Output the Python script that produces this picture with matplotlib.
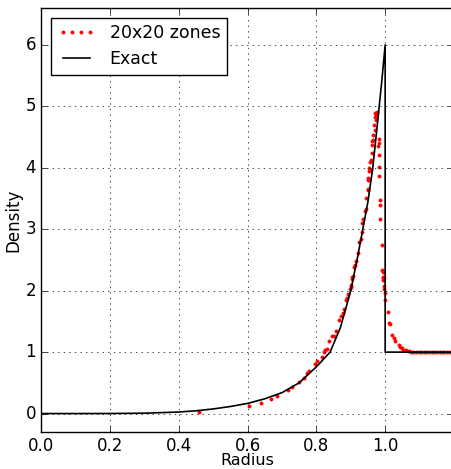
import matplotlib
matplotlib.use('Agg')
import matplotlib.pyplot as plt

plt.style.use('classic')

# Exact solution
r_exact = [0.0, 0.1, 0.2, 0.3, 0.4, 0.45, 0.5, 0.55, 0.6, 0.65, 0.7, 0.75,
           0.8, 0.84, 0.87, 0.9, 0.92, 0.935, 0.95, 0.964, 0.98, 0.99, 1.0,
           1.0, 1.2]
rho_exact = [0.0, 0.0, 0.001, 0.006, 0.025, 0.045, 0.075, 0.115, 0.165, 0.24,
             0.34, 0.5, 0.76, 1.0, 1.4, 2.0, 2.55, 3.0, 3.45, 4.0, 4.85, 5.4,
             6.0, 1.0, 1.0]

# 20x20 zones simulation (zone radius, density)
r_sim = [0.459, 0.603, 0.640, 0.669, 0.687, 0.719, 0.729, 0.75, 0.763, 0.774,
         0.78, 0.797, 0.801, 0.816, 0.821, 0.826, 0.830, 0.838, 0.845, 0.85,
         0.858, 0.867, 0.871, 0.877, 0.879, 0.886, 0.889, 0.893, 0.898, 0.90,
         0.903, 0.906, 0.90, 0.903, 0.91, 0.913, 0.916, 0.92, 0.925, 0.929,
         0.932, 0.934, 0.937, 0.942, 0.945, 0.945, 0.949, 0.952, 0.949, 0.951,
         0.951, 0.954, 0.954, 0.956, 0.958, 0.958, 0.961, 0.961, 0.963, 0.964,
         0.966, 0.969, 0.971, 0.971, 0.971, 0.972, 0.974, 0.975, 0.978, 0.981,
         0.981, 0.981, 0.983, 0.981, 0.985, 0.985, 0.985, 0.99, 0.992, 0.995,
         0.995, 0.997, 0.993, 0.995, 0.996, 0.997, 1.0, 1.0, 1.007, 1.012,
         1.015, 1.02, 1.026, 1.029, 1.039, 1.044, 1.049, 1.053, 1.06, 1.068,
         1.075, 1.082, 1.09, 1.098, 1.105, 1.112, 1.12, 1.128, 1.135, 1.142,
         1.15, 1.158, 1.165, 1.172, 1.18, 1.188, 1.195]
rho_sim = [0.03, 0.12, 0.18, 0.24, 0.29, 0.39, 0.43, 0.52, 0.58, 0.66,
           0.69, 0.81, 0.85, 0.92, 1.01, 1.03, 1.05, 1.18, 1.26, 1.27,
           1.34, 1.53, 1.58, 1.63, 1.70, 1.84, 1.88, 1.95, 2.02, 2.10,
           2.19, 2.24, 2.06, 2.22, 2.39, 2.42, 2.49, 2.62, 2.80, 2.84,
           2.96, 3.10, 3.17, 3.29, 3.33, 3.51, 3.64, 3.80, 3.65, 3.83,
           3.80, 4.00, 3.94, 4.09, 4.13, 3.97, 4.24, 4.37, 4.43, 4.46,
           4.54, 4.70, 4.62, 4.83, 4.89, 4.77, 4.86, 4.91, 4.35, 4.47,
           4.41, 4.20, 4.02, 3.87, 3.48, 3.40, 3.17, 2.74, 2.33, 2.21,
           2.18, 2.07, 2.31, 2.23, 2.21, 2.02, 1.96, 1.85, 1.66, 1.47,
           1.45, 1.28, 1.23, 1.18, 1.11, 1.08, 1.06, 1.04, 1.03, 1.02,
           1.01, 1.01, 1.0, 1.0, 1.0, 1.0, 1.0, 1.0, 1.0, 1.0,
           1.0, 1.0, 1.0, 1.0, 1.0, 1.0, 1.0]

fig = plt.figure(figsize=(4.51, 4.69), dpi=100)
fig.patch.set_facecolor('white')
ax = fig.add_axes([41 / 451, 37 / 469, 413 / 451, 424 / 469])

ax.plot(r_sim, rho_sim, 'o', color='red', markeredgecolor='red',
        markersize=2.3, label='20x20 zones')
ax.plot(r_exact, rho_exact, '-', color='black', linewidth=1.2, label='Exact')

ax.set_xlim(0, 1.2)
ax.set_ylim(-0.3, 6.6)
ax.set_xticks([0.0, 0.2, 0.4, 0.6, 0.8, 1.0])
ax.set_yticks([0, 1, 2, 3, 4, 5, 6])
ax.set_xlabel('Radius', fontsize=11.5, labelpad=-1)
ax.set_ylabel('Density', fontsize=12, labelpad=2)
ax.tick_params(labelsize=12, pad=3.5)
ax.grid(True)

ax.legend(loc='upper left', numpoints=4, fontsize=12.5, fancybox=False,
          handlelength=2.2, labelspacing=0.45, borderaxespad=0.55)

fig.savefig('out.png', dpi=100, facecolor='white')
